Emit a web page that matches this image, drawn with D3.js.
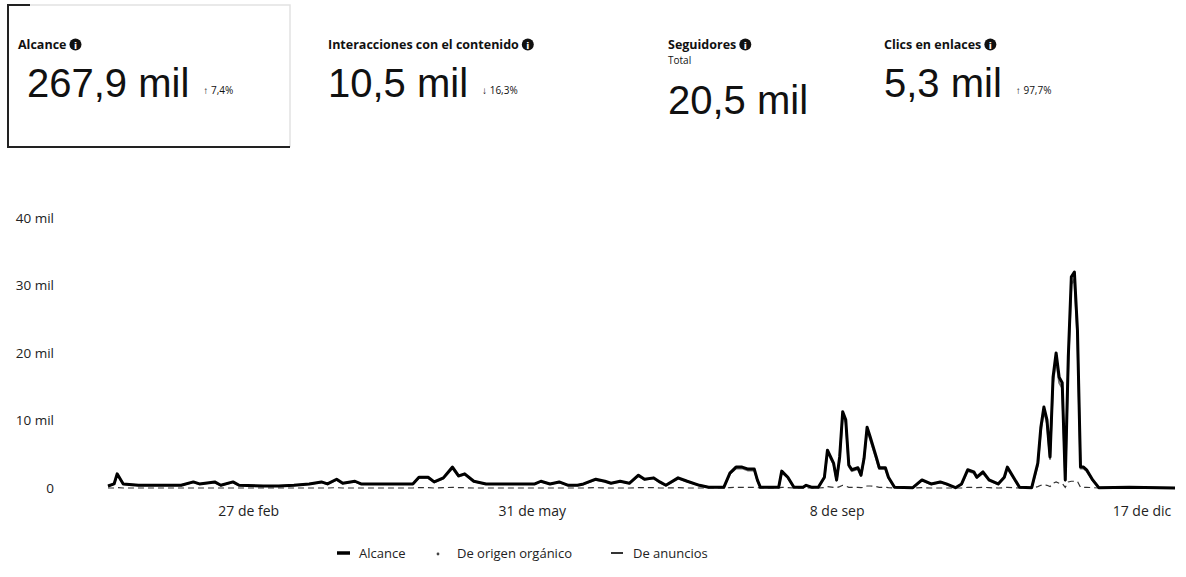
<!DOCTYPE html>
<html>
<head>
<meta charset="utf-8">
<script src="https://cdn.jsdelivr.net/npm/d3@7"></script>
<style>
  body { margin: 0; background: #fff; }
  text { fill: #111; }
</style>
</head>
<body>
<div id="chart"></div>
<script>
// KPIs de la cabecera
const kpiTitles = ["Alcance", "Interacciones con el contenido", "Seguidores", "Clics en enlaces"];
const kpiValues = ["267,9 mil", "10,5 mil", "20,5 mil", "5,3 mil"];
const kpiChanges = ["↑ 7,4%", "↓ 16,3%", "", "↑ 97,7%"];
const kpiSub = ["", "", "Total", ""];

// fechas (2019) y series diarias
const fechas = ["01-12","01-14","01-15","01-17","01-22","01-29","02-05","02-09","02-11","02-16",
  "02-18","02-22","02-24","03-04","03-09","03-14","03-19","03-23","03-25","03-28",
  "03-30","04-03","04-05","04-11","04-18","04-22","04-24","04-27","04-29","05-02",
  "05-05","05-07","05-09","05-12","05-16","05-21","05-27","06-01","06-03","06-06",
  "06-09","06-12","06-15","06-17","06-21","06-24","06-26","06-29","07-02","07-05",
  "07-07","07-10","07-12","07-14","07-18","07-21","07-25","07-28","08-02","08-04",
  "08-06","08-08","08-10","08-12","08-13","08-14","08-20","08-21","08-23","08-25",
  "08-28","08-29","08-31","09-02","09-04","09-05","09-07","09-08","09-09","09-10",
  "09-11","09-12","09-13","09-15","09-16","09-17","09-18","09-19","09-21","09-22",
  "09-24","09-25","09-27","10-03","10-06","10-09","10-12","10-14","10-17","10-19",
  "10-21","10-23","10-24","10-26","10-28","10-31","11-02","11-03","11-05","11-07",
  "11-11","11-13","11-14","11-15","11-16","11-17","11-18","11-19","11-20","11-21",
  "11-22","11-23","11-24","11-25","11-26","11-27","11-28","11-29","12-01","12-03",
  "12-13","12-28"];

const alcance = [300,600,2100,600,400,400,400,900,600,900,
  400,900,400,300,300,400,600,900,600,1300,
  700,1000,600,600,600,600,1600,1600,900,1500,
  3100,1800,2100,1000,600,600,600,600,1000,600,
  900,400,400,600,1300,1000,700,1000,700,1900,
  1300,1500,900,400,1500,1000,400,100,100,2200,
  3100,3100,2800,2800,1200,100,100,2500,1600,100,
  100,400,100,100,1600,5600,3700,1200,4600,11300,
  10100,3400,2700,3000,1900,4400,9000,7600,4600,3000,
  3000,1600,100,50,1200,600,900,600,50,600,
  2700,2400,1600,2400,1200,600,1600,3100,1600,100,
  50,3700,9000,12000,10100,4600,16400,20000,16400,15600,
  1200,19400,31300,32000,23400,3100,3100,2700,1200,50,
  100,0];

const organico = [300,600,2000,600,400,400,400,850,600,850,
  400,850,400,300,300,400,600,850,600,1200,
  700,950,600,600,600,600,1500,1500,850,1400,
  2900,1700,2000,950,600,600,600,600,950,600,
  850,400,400,600,1200,950,700,950,700,1800,
  1250,1400,850,400,1400,950,400,100,100,2100,
  2900,2900,2600,2600,1100,100,100,2300,1500,100,
  100,400,100,100,1500,5300,3500,1100,4300,10800,
  9700,3200,2500,2800,1800,4200,8600,7200,4300,2800,
  2800,1500,100,50,1100,550,850,550,50,550,
  2500,2200,1500,2200,1100,550,1500,2900,1500,100,
  50,3400,8500,11400,9600,4300,15600,19000,15600,14800,
  1100,18400,30200,30900,22300,2900,2900,2500,1100,50,
  100,0];

const anuncios = [0,0,50,0,0,0,0,0,0,0,
  0,0,0,0,0,0,0,0,0,50,
  0,0,0,0,0,0,50,50,0,50,
  100,50,50,0,0,0,0,0,0,0,
  0,0,0,0,50,0,0,0,0,50,
  50,50,0,0,50,0,0,0,0,50,
  100,100,100,100,50,0,0,100,50,0,
  0,0,0,0,50,200,100,50,200,400,
  300,100,100,100,50,100,300,300,200,100,
  100,50,0,0,50,0,0,0,0,0,
  100,100,50,100,50,0,50,100,50,0,
  0,200,400,500,400,200,700,900,700,700,
  100,900,1000,1000,1000,100,100,100,50,0,
  0,0];

const tickFechas = ["2019-02-27", "2019-05-31", "2019-09-08", "2019-12-17"];
const tickLabels = ["27 de feb", "31 de may", "8 de sep", "17 de dic"];
const yTicks = [0, 10000, 20000, 30000, 40000];

const legendLabels = ["Alcance", "De origen orgánico", "De anuncios"];

const width = 1186, height = 577;
const parse = d3.timeParse("%Y-%m-%d");

const svg = d3.select("#chart").append("svg")
  .attr("width", width)
  .attr("height", height);

// ---- cabecera ----
const kpiX = [18, 328, 668, 884];

// marco de la tarjeta seleccionada
svg.append("path")
  .attr("d", "M30,5 H290 V147")
  .attr("fill", "none").attr("stroke", "#e2e2e2").attr("stroke-width", 1.5);
svg.append("path")
  .attr("d", "M30,5 H8 V147 H290")
  .attr("fill", "none").attr("stroke", "#222").attr("stroke-width", 2);

kpiTitles.forEach(function (t, i) {
  const g = svg.append("g").attr("transform", "translate(" + kpiX[i] + ",0)");
  const title = g.append("text")
    .attr("x", 0).attr("y", 49)
    .attr("font-family", "Open Sans, sans-serif")
    .attr("font-weight", "bold")
    .attr("font-size", 12.5)
    .text(t);
  const w = title.node().getComputedTextLength();
  g.append("circle").attr("cx", w + 9).attr("cy", 44.5).attr("r", 6).attr("fill", "#111");
  g.append("text").attr("x", w + 9).attr("y", 48.5)
    .attr("text-anchor", "middle").attr("font-size", 9).attr("font-weight", "bold")
    .attr("font-family", "DejaVu Sans, sans-serif")
    .style("fill", "#fff").text("i");

  const big = i === 2 ? 114 : 97;
  if (kpiSub[i]) {
    g.append("text").attr("x", 0).attr("y", 64)
      .attr("font-family", "Open Sans, sans-serif").attr("font-size", 10)
      .text(kpiSub[i]);
  }
  const val = g.append("text")
    .attr("x", i === 0 ? 9 : 0).attr("y", big)
    .attr("font-family", "Liberation Sans, Arial, sans-serif")
    .attr("font-size", 40)
    .text(kpiValues[i]);
  if (kpiChanges[i]) {
    const vw = val.node().getComputedTextLength();
    g.append("text")
      .attr("x", (i === 0 ? 9 : 0) + vw + 14).attr("y", big - 3)
      .attr("font-family", "Open Sans, sans-serif").attr("font-size", 10)
      .text(kpiChanges[i]);
  }
});

// ---- grafico ----
const x = d3.scaleTime()
  .domain([parse("2019-01-12"), parse("2019-12-28")])
  .range([108, 1175]);

const y = d3.scaleLinear()
  .domain([0, 40000])
  .range([488, 218]);

const puntos = fechas.map(function (f, i) {
  return { fecha: parse("2019-" + f), alcance: alcance[i], organico: organico[i], anuncios: anuncios[i] };
});

// eje y
svg.append("g")
  .attr("transform", "translate(58,0)")
  .call(d3.axisLeft(y).tickValues(yTicks).tickSize(0)
    .tickFormat(function (d) { return d === 0 ? "0" : (d / 1000) + " mil"; }))
  .call(function (g) { g.select(".domain").remove(); })
  .selectAll("text")
  .attr("font-family", "Open Sans, sans-serif")
  .attr("font-size", 13.5)
  .attr("x", -4)
  .style("fill", "#222");

// eje x
svg.append("g")
  .attr("transform", "translate(0,500)")
  .call(d3.axisBottom(x).tickValues(tickFechas.map(parse)).tickSize(0)
    .tickFormat(function (d, i) { return tickLabels[i]; }))
  .call(function (g) { g.select(".domain").remove(); })
  .selectAll("text")
  .attr("font-family", "Open Sans, sans-serif")
  .attr("font-size", 14)
  .attr("dy", "0.9em")
  .style("fill", "#222");

const linea = function (key) {
  return d3.line()
    .x(function (d) { return x(d.fecha); })
    .y(function (d) { return y(d[key]); });
};

svg.append("path")
  .datum(puntos)
  .attr("fill", "none")
  .attr("stroke", "#333")
  .attr("stroke-width", 1.2)
  .attr("stroke-dasharray", "6,4")
  .attr("d", linea("anuncios"));

svg.append("path")
  .datum(puntos)
  .attr("fill", "none")
  .attr("stroke", "#777")
  .attr("stroke-width", 2)
  .attr("stroke-linejoin", "round")
  .attr("d", linea("organico"));

svg.append("path")
  .datum(puntos)
  .attr("fill", "none")
  .attr("stroke", "#000")
  .attr("stroke-width", 3)
  .attr("stroke-linejoin", "round")
  .attr("d", linea("alcance"));

// ---- leyenda ----
const legX = [337, 433, 611];
const leg = svg.append("g").attr("transform", "translate(0,553)");
legendLabels.forEach(function (l, i) {
  const g = leg.append("g").attr("transform", "translate(" + legX[i] + ",0)");
  if (i === 0) {
    g.append("line").attr("x1", 0).attr("x2", 13).attr("y1", 0).attr("y2", 0)
      .attr("stroke", "#000").attr("stroke-width", 3.5);
  } else if (i === 1) {
    g.append("circle").attr("cx", 5).attr("cy", 1).attr("r", 1.4).attr("fill", "#444");
  } else {
    g.append("line").attr("x1", 0).attr("x2", 12).attr("y1", 0).attr("y2", 0)
      .attr("stroke", "#333").attr("stroke-width", 2);
  }
  g.append("text")
    .attr("x", i === 1 ? 24 : 22).attr("y", 5)
    .attr("font-family", "Open Sans, sans-serif")
    .attr("font-size", 13)
    .style("fill", "#222")
    .text(l);
});
</script>
</body>
</html>
